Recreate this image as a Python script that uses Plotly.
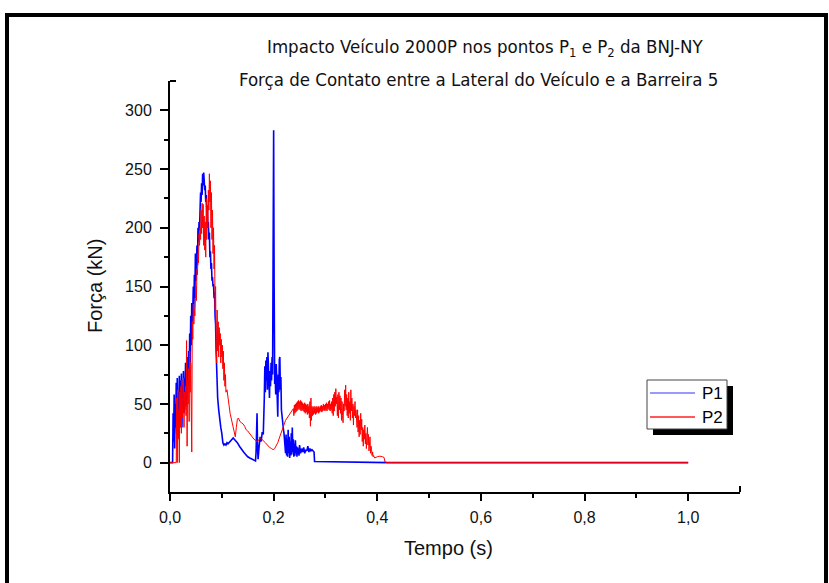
import plotly.graph_objects as go

# ---------------- data ----------------
time_p1 = [
    0.000, 0.005, 0.006, 0.007, 0.008, 0.009, 0.010, 0.011, 0.012, 0.013, 0.014, 0.015, 0.016, 0.017, 0.018, 0.019, 0.020,
    0.021, 0.022, 0.023, 0.024, 0.025, 0.026, 0.027, 0.028, 0.029, 0.030, 0.031, 0.032, 0.033, 0.034, 0.035, 0.036, 0.037, 0.038, 0.039, 0.040,
    0.041, 0.042, 0.043, 0.044, 0.045, 0.046, 0.047, 0.048, 0.049, 0.050, 0.051, 0.052, 0.053, 0.054, 0.055, 0.056, 0.057, 0.058, 0.059, 0.060,
    0.061, 0.062, 0.063, 0.064, 0.065, 0.066,
    0.067, 0.068, 0.069, 0.070, 0.071, 0.072, 0.073, 0.074, 0.075, 0.076, 0.077, 0.078, 0.079, 0.080, 0.081, 0.082, 0.083, 0.084, 0.085, 0.086,
    0.087, 0.088, 0.089, 0.090,
    0.092, 0.094, 0.096, 0.098, 0.100,
    0.102, 0.104, 0.106, 0.108, 0.110, 0.112, 0.114, 0.116, 0.118, 0.120, 0.122, 0.124, 0.126, 0.128, 0.130, 0.134, 0.138, 0.142, 0.146, 0.150,
    0.154, 0.158, 0.162, 0.165,
    0.166, 0.167, 0.168, 0.169, 0.170, 0.172, 0.174, 0.176, 0.178, 0.180, 0.181, 0.182, 0.183, 0.184, 0.185, 0.186, 0.187, 0.188, 0.189, 0.190,
    0.191, 0.192, 0.193, 0.194, 0.195, 0.196, 0.197, 0.198,
    0.199, 0.200, 0.201, 0.202, 0.203, 0.204, 0.205, 0.206, 0.207, 0.208, 0.209, 0.210, 0.211, 0.212, 0.213, 0.214, 0.215, 0.216, 0.217, 0.218,
    0.219, 0.220, 0.221, 0.222,
    0.223, 0.224, 0.225, 0.226, 0.227, 0.228, 0.229, 0.230, 0.231, 0.232, 0.233, 0.234, 0.235, 0.236, 0.237, 0.238, 0.239, 0.240, 0.241, 0.242,
    0.243, 0.244, 0.245, 0.246, 0.247, 0.248, 0.249, 0.250, 0.252, 0.254, 0.256, 0.258, 0.260, 0.262, 0.264, 0.266, 0.268, 0.270, 0.272, 0.274,
    0.276, 0.277, 0.278,
    0.279, 0.300, 0.350, 0.400, 0.415, 0.420, 1.000,
]
force_p1 = [
    0, 0, 42, 18, 58, 12, 50, 30, 68, 25, 72, 40, 60, 22, 74, 35, 70,
    45, 76, 30, 65, 50, 78, 42, 72, 55, 85, 48, 75, 60, 90, 65, 95, 72, 110, 85, 125,
    100, 136, 120, 130, 150, 128, 160, 140, 178, 155, 172, 185, 168, 200, 188, 205, 198, 215, 230, 222,
    238, 228, 246, 236, 247, 240,
    232, 236, 222, 228, 215, 219, 200, 205, 190, 196, 175, 180, 165, 170, 155, 158, 150, 152, 140, 145,
    125, 118, 95, 79,
    55, 45, 36, 30, 25,
    17, 15, 16, 15, 17, 16, 17, 18, 19, 20, 21, 20, 19, 18, 17, 14, 11, 9, 7, 5,
    4, 3, 2, 1.5,
    8, 30, 42, 12, 3, 14, 22, 18, 26, 24, 35, 55, 82, 60, 87, 70, 90, 62, 94, 72,
    80, 55, 78, 65, 85, 70, 90, 75,
    180, 283, 150, 67, 75, 58, 84, 70, 45, 39, 75, 60, 88, 90, 62, 73, 45, 39, 35, 33,
    28, 25, 20, 16,
    8, 24, 6, 20, 5, 28, 8, 22, 4, 18, 6, 25, 7, 30, 9, 20, 5, 16, 6, 19,
    8, 14, 5, 13, 7, 12, 6, 15, 8, 12, 9, 13, 8, 11, 10, 14, 9, 12, 10, 11,
    10, 9, 9,
    1, 0.8, 0.6, 0.5, 0.3, 0, 0,
]

time_p2 = [
    0.000, 0.012, 0.013, 0.014, 0.015, 0.016, 0.017, 0.018, 0.019, 0.020, 0.021, 0.022, 0.023, 0.024, 0.025, 0.026, 0.027, 0.028, 0.029, 0.030,
    0.031, 0.032, 0.033, 0.034, 0.035, 0.036, 0.037, 0.038, 0.039, 0.040, 0.041, 0.042,
    0.043, 0.044, 0.045, 0.046, 0.047, 0.048, 0.049, 0.050, 0.051, 0.052, 0.053, 0.054, 0.055, 0.056, 0.057, 0.058, 0.059, 0.060, 0.061, 0.062,
    0.063, 0.064, 0.065, 0.066, 0.067, 0.068, 0.069, 0.070, 0.071, 0.072, 0.073, 0.074, 0.075, 0.076, 0.077, 0.078, 0.079, 0.080, 0.081, 0.082,
    0.083, 0.084, 0.085, 0.086, 0.087, 0.088, 0.089, 0.090,
    0.091, 0.092, 0.093, 0.094, 0.095, 0.096, 0.097, 0.098, 0.099, 0.100, 0.101, 0.102, 0.103, 0.104, 0.105, 0.106, 0.107, 0.108,
    0.110, 0.112, 0.114, 0.116, 0.118, 0.120, 0.122, 0.124, 0.126, 0.128, 0.130,
    0.132, 0.135, 0.138, 0.141, 0.144, 0.147, 0.150, 0.153, 0.156, 0.159, 0.162, 0.165, 0.168, 0.171, 0.174, 0.177, 0.180,
    0.184, 0.188, 0.192, 0.196, 0.199, 0.202, 0.205, 0.208, 0.211, 0.214, 0.217, 0.220, 0.223, 0.226, 0.229, 0.232, 0.235, 0.238,
    0.239, 0.240, 0.241, 0.242, 0.243, 0.244, 0.245, 0.246, 0.247, 0.248, 0.249, 0.250, 0.251, 0.252, 0.253, 0.254, 0.255, 0.256, 0.257, 0.258,
    0.259, 0.260, 0.261, 0.262, 0.263, 0.264, 0.265, 0.266, 0.267, 0.268, 0.269, 0.270, 0.271, 0.272, 0.273, 0.274, 0.275, 0.276, 0.277, 0.278,
    0.279, 0.280, 0.281, 0.282, 0.283, 0.284, 0.285, 0.286, 0.287, 0.288, 0.289, 0.290, 0.291, 0.292, 0.293, 0.294, 0.295, 0.296, 0.297, 0.298,
    0.299, 0.300, 0.301, 0.302, 0.303, 0.304, 0.305, 0.306, 0.307, 0.308, 0.309, 0.310,
    0.311, 0.312, 0.313, 0.314, 0.315, 0.316, 0.317, 0.318, 0.319, 0.320, 0.321, 0.322, 0.323, 0.324, 0.325, 0.326, 0.327, 0.328, 0.329, 0.330,
    0.331, 0.332, 0.333, 0.334, 0.335, 0.336, 0.337, 0.338, 0.339, 0.340, 0.341, 0.342, 0.343, 0.344, 0.345, 0.346, 0.347, 0.348, 0.349, 0.350,
    0.351, 0.352, 0.353, 0.354, 0.355, 0.356, 0.357, 0.358, 0.359, 0.360,
    0.361, 0.362, 0.363, 0.364, 0.365, 0.366, 0.367, 0.368, 0.369, 0.370, 0.371, 0.372, 0.373, 0.374, 0.375, 0.376, 0.377, 0.378, 0.379, 0.380,
    0.381, 0.382, 0.383, 0.384, 0.385, 0.386, 0.387, 0.388, 0.389, 0.390, 0.391, 0.392, 0.393, 0.394, 0.395,
    0.400, 0.405, 0.410, 0.413, 0.415, 0.420, 1.000,
]
force_p2 = [
    0, 0, 55, 0, 62, 20, 45, 0, 60, 30, 65, 25, 70, 38, 55, 72, 30, 60, 45, 65,
    40, 104, 14, 70, 50, 80, 35, 95, 60, 85, 30, 9,
    120, 105, 135, 118, 130, 125, 140, 150, 138, 165, 160, 178, 170, 195, 185, 200, 190, 215, 195, 221,
    200, 220, 185, 210, 181, 205, 175, 225, 190, 218, 200, 232, 215, 246, 222, 240, 200, 230, 190, 215,
    178, 200, 165, 185, 130, 150, 100, 85,
    130, 95, 120, 90, 115, 100, 110, 85, 105, 90, 100, 80, 95, 70, 85, 65, 75, 60,
    62, 55, 45, 42, 38, 34, 30, 26, 22, 30, 37,
    38, 35, 34, 33, 31, 28, 27, 25, 23, 21, 20, 19, 18, 19, 21, 20, 19,
    17, 15, 13, 12, 11, 12, 14, 17, 21, 25, 29, 33, 36, 38, 40, 42, 44, 46,
    40, 49, 42, 50, 43, 51, 44, 52, 45, 53, 46, 52, 45, 53, 44, 52, 45, 51, 44, 50,
    43, 51, 42, 50, 43, 49, 41, 50, 42, 48, 38, 52, 31, 55, 36, 48, 40, 47, 41, 48,
    42, 47, 41, 48, 42, 47, 43, 48, 42, 47, 43, 48, 44, 49, 43, 48, 44, 50, 45, 49,
    44, 50, 45, 51, 44, 50, 46, 52, 45, 53, 44, 50,
    45, 52, 42, 55, 40, 58, 44, 60, 48, 63, 50, 56, 40, 58, 38, 60, 45, 57, 42, 55,
    36, 52, 40, 34, 50, 44, 62, 48, 66, 45, 58, 40, 55, 38, 60, 42, 52, 36, 62, 44,
    55, 38, 50, 32, 48, 40, 52, 38, 45, 36,
    30, 45, 26, 40, 22, 36, 24, 42, 28, 37, 18, 30, 14, 28, 20, 32, 16, 25, 12, 22,
    30, 15, 24, 10, 18, 22, 8, 14, 11, 6, 9, 5, 6, 5, 4,
    5, 5.5, 5, 4.5, 0.5, 0, 0,
]

assert len(time_p1) == len(force_p1), (len(time_p1), len(force_p1))
assert len(time_p2) == len(force_p2), (len(time_p2), len(force_p2))

series_names = ["P1", "P2"]
series_colors = ["#0000ff", "#ff0000"]
legend_line_colors = ["#7676ff", "#ff2020"]

x_ticks = [0.0, 0.2, 0.4, 0.6, 0.8, 1.0]
x_tick_labels = ["0,0", "0,2", "0,4", "0,6", "0,8", "1,0"]
x_minor_ticks = [0.1, 0.3, 0.5, 0.7, 0.9]
y_ticks = [0, 50, 100, 150, 200, 250, 300]
y_tick_labels = ["0", "50", "100", "150", "200", "250", "300"]
y_minor_ticks = [25, 75, 125, 175, 225, 275]

title_line1 = "Impacto Veículo 2000P nos pontos P<sub>1</sub> e P<sub>2</sub> da BNJ-NY"
title_line2 = "Força de Contato entre a Lateral do Veículo e a Barreira 5"
x_title = "Tempo (s)"
y_title = "Força (kN)"

# ---------------- figure ----------------
W, H = 829, 583
L, R, T, B = 170, 89, 81, 91
pw, ph = W - L - R, H - T - B


def px_x(p):
    return (p - L) / pw


def px_y(p):
    return (H - B - p) / ph


fig = go.Figure()
fig.add_trace(go.Scatter(x=time_p1, y=force_p1, mode="lines", name=series_names[0],
                         line=dict(color=series_colors[0], width=1.6)))
fig.add_trace(go.Scatter(x=time_p2, y=force_p2, mode="lines", name=series_names[1],
                         line=dict(color=series_colors[1], width=1)))

axis_font = dict(family="Liberation Sans, Arial, sans-serif", size=16, color="#111")

fig.update_layout(
    width=W, height=H,
    margin=dict(l=L, r=R, t=T, b=B, pad=0),
    paper_bgcolor="white", plot_bgcolor="white",
    showlegend=False,
    xaxis=dict(range=[0, 1.1], showgrid=False, zeroline=False,
               showline=True, linecolor="black", linewidth=2,
               tickmode="array", tickvals=x_ticks, ticktext=x_tick_labels,
               ticks="outside", ticklen=7, tickwidth=1.5, tickcolor="black",
               tickfont=axis_font, ticklabelstandoff=3,
               minor=dict(tickmode="array", tickvals=x_minor_ticks, ticks="outside",
                          ticklen=4, tickwidth=1.5, tickcolor="black")),
    yaxis=dict(range=[-25, 325], showgrid=False, zeroline=False,
               showline=True, linecolor="black", linewidth=2,
               tickmode="array", tickvals=y_ticks, ticktext=y_tick_labels,
               ticks="outside", ticklen=8, tickwidth=1.5, tickcolor="black",
               tickfont=axis_font, ticklabelstandoff=5,
               minor=dict(tickmode="array", tickvals=y_minor_ticks, ticks="outside",
                          ticklen=4, tickwidth=1.5, tickcolor="black")),
)

title_font = dict(family="DejaVu Sans Condensed, DejaVu Sans, sans-serif", size=18.5, color="#111")
fig.add_annotation(text=title_line1, x=px_x(485), y=px_y(48), xref="paper", yref="paper",
                   showarrow=False, xanchor="center", yanchor="middle", font=title_font)
fig.add_annotation(text=title_line2, x=px_x(478), y=px_y(80), xref="paper", yref="paper",
                   showarrow=False, xanchor="center", yanchor="middle", font=title_font)
label_font = dict(family="Liberation Sans, Arial, sans-serif", size=20, color="#111")
fig.add_annotation(text=x_title, x=px_x(448), y=px_y(548), xref="paper", yref="paper",
                   showarrow=False, xanchor="center", yanchor="middle", font=label_font)
fig.add_annotation(text=y_title, x=px_x(95), y=px_y(286), xref="paper", yref="paper",
                   showarrow=False, xanchor="center", yanchor="middle", textangle=-90,
                   font=label_font)

# legend box (Origin style, with drop shadow)
legend_font = dict(family="Liberation Sans, Arial, sans-serif", size=17, color="black")
shapes = [
    # outer frame
    dict(type="rect", xref="paper", yref="paper", x0=px_x(7), x1=px_x(826), y0=px_y(620), y1=px_y(15),
         line=dict(color="black", width=4), fillcolor="rgba(0,0,0,0)", layer="above"),
    # end caps of the axes
    dict(type="line", xref="paper", yref="paper", x0=px_x(170), x1=px_x(176), y0=px_y(81), y1=px_y(81),
         line=dict(color="black", width=2)),
    dict(type="line", xref="paper", yref="paper", x0=px_x(740), x1=px_x(740), y0=px_y(492), y1=px_y(486),
         line=dict(color="black", width=2)),
    # legend shadow and box
    dict(type="rect", xref="paper", yref="paper", x0=px_x(653), x1=px_x(733), y0=px_y(435), y1=px_y(386),
         line=dict(width=0), fillcolor="black", layer="above"),
    dict(type="rect", xref="paper", yref="paper", x0=px_x(647), x1=px_x(727), y0=px_y(429), y1=px_y(380),
         line=dict(color="#444", width=1), fillcolor="white", layer="above"),
]
legend_rows = [393, 417]
for name, color, row in zip(series_names, legend_line_colors, legend_rows):
    shapes.append(dict(type="line", xref="paper", yref="paper", x0=px_x(650), x1=px_x(695),
                       y0=px_y(row), y1=px_y(row), line=dict(color=color, width=1.3), layer="above"))
    fig.add_annotation(text=name, x=px_x(700), y=px_y(row), xref="paper", yref="paper",
                       showarrow=False, xanchor="left", yanchor="middle", font=legend_font)
fig.update_layout(shapes=shapes)

fig.write_html("out.html", config={"displayModeBar": False},
               post_script="document.body.style.margin='0px';")
